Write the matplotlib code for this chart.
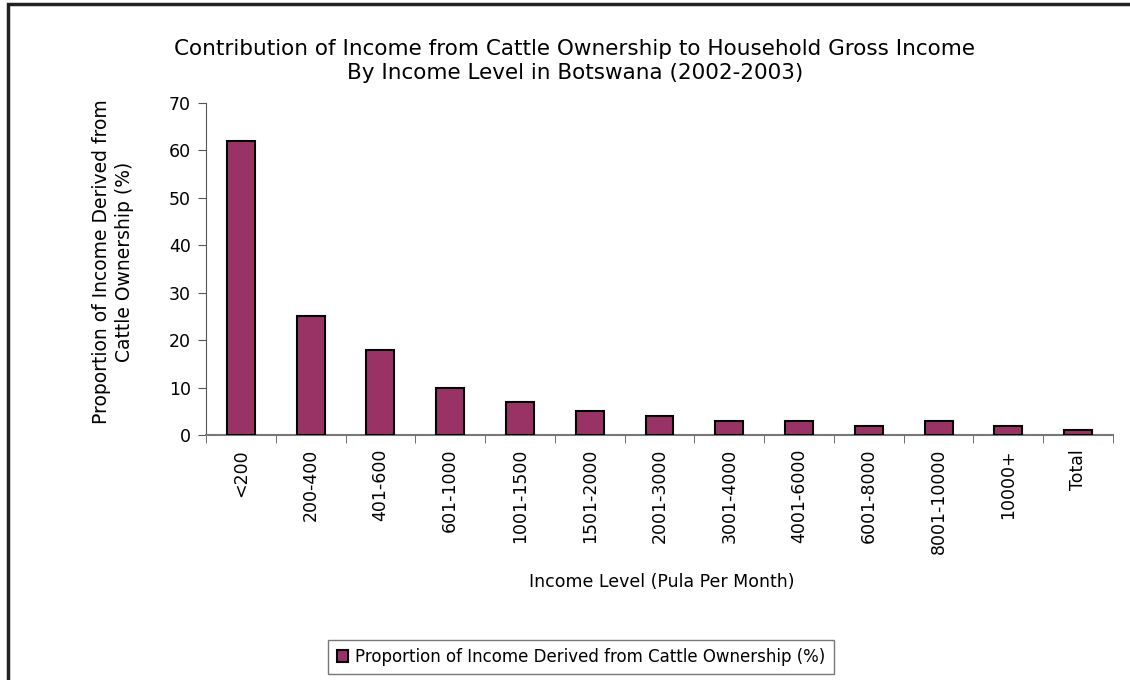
import numpy as np
import matplotlib.pyplot as plt
from matplotlib.patches import Rectangle

plt.rcParams['font.family'] = ['DejaVu Sans']

# data
categories = ['<200', '200-400', '401-600', '601-1000', '1001-1500', '1501-2000',
              '2001-3000', '3001-4000', '4001-6000', '6001-8000', '8001-10000',
              '10000+', 'Total']
values = [62, 25, 18, 10, 7, 5, 4, 3, 3, 2, 3, 2, 1]

fig = plt.figure(figsize=(11.3, 6.8), dpi=100)
ax = fig.add_axes([206/1130, 1 - 435/680, (1113 - 206)/1130, (435 - 103)/680])

# figure border (cut off at right and bottom)
fig.patches.append(Rectangle((8/1130, -0.1), 1.2, 1 - 4/680 + 0.1,
                             transform=fig.transFigure, fill=False,
                             edgecolor='#222222', linewidth=2.5))

x = np.arange(len(categories))
ax.bar(x, values, width=0.4, color='#993366', edgecolor='black', linewidth=1.5,
       label='Proportion of Income Derived from Cattle Ownership (%)', zorder=3)

ax.set_xlim(-0.5, len(categories) - 0.5)
ax.set_ylim(0, 70)
ax.set_yticks(range(0, 71, 10))
ax.set_xticks(x)
ax.set_xticklabels(categories, rotation=90, fontsize=12.5)
ax.set_xticks(np.arange(-0.5, len(categories)), minor=True)
ax.tick_params(axis='x', which='major', length=0, pad=10)
ax.tick_params(axis='x', which='minor', length=6, color='#555555', direction='out')
ax.tick_params(axis='y', length=6, color='#555555', labelsize=12.5, pad=5)

for s in ['top', 'right']:
    ax.spines[s].set_visible(False)
ax.spines['left'].set_color('#555555')
ax.spines['bottom'].set_color('#777777')
ax.spines['bottom'].set_linewidth(1.5)

fig.text(575/1130, 1 - 61/680,
         'Contribution of Income from Cattle Ownership to Household Gross Income\n'
         'By Income Level in Botswana (2002-2003)',
         ha='center', va='center', fontsize=15.5, linespacing=1.25)
fig.text(662/1130, 1 - 582/680, 'Income Level (Pula Per Month)',
         ha='center', va='center', fontsize=12.5)
fig.text(113/1130, 1 - 262/680, 'Proportion of Income Derived from\nCattle Ownership (%)',
         ha='center', va='center', rotation=90, fontsize=13.5, linespacing=1.25)

leg = fig.legend(loc='center', bbox_to_anchor=(581/1130, 1 - 657/680), fontsize=12,
                 frameon=True, fancybox=False, edgecolor='#555555', handlelength=0.7,
                 handleheight=0.7, handletextpad=0.4, borderpad=0.5)
leg.get_frame().set_linewidth(1)

fig.savefig('out.png', dpi=100)
